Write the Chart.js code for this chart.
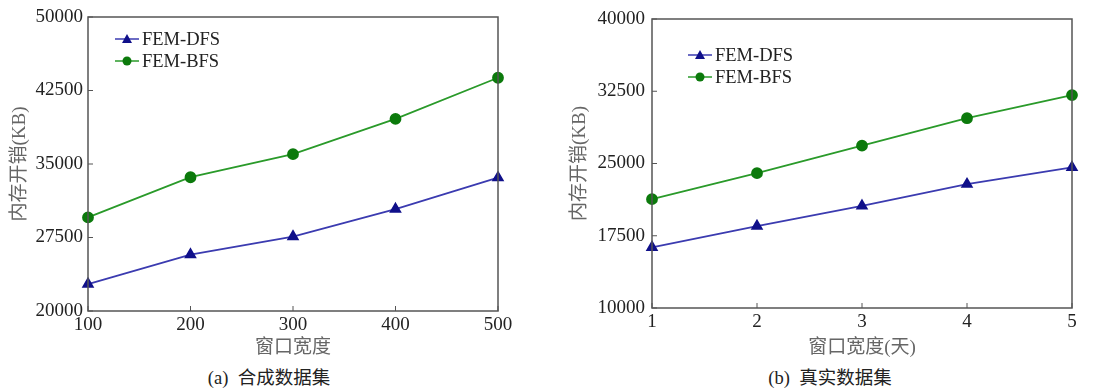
<!DOCTYPE html>
<html>
<head>
<meta charset="utf-8">
<script src="https://cdn.jsdelivr.net/npm/chart.js@4/dist/chart.umd.min.js"></script>
<style>
  html, body { margin: 0; padding: 0; background: #fff; }
  body { width: 1107px; height: 389px; position: relative; overflow: hidden; }
  .box { position: absolute; top: 0; height: 360px; }
  .cap {
    position: absolute; top: 363px; font-size: 18.5px; color: #222;
    font-family: "Liberation Serif", "Noto Sans CJK SC", serif; white-space: pre;
    transform: translateX(-50%);
  }
</style>
</head>
<body>
<div class="box" style="left:0;width:530px"><canvas id="chartA"></canvas></div>
<div class="box" style="left:560px;width:547px"><canvas id="chartB"></canvas></div>
<div class="cap" style="left:269px">(a)  合成数据集</div>
<div class="cap" style="left:830px">(b)  真实数据集</div>
<script>
// ── Data ─────────────────────────────────────────────────────
const seriesNames = ['FEM-DFS', 'FEM-BFS'];

const widthsA = ['100', '200', '300', '400', '500'];
const dfsA = [22750, 25750, 27600, 30400, 33600];
const bfsA = [29550, 33650, 36000, 39600, 43800];
const yTicksA = [20000, 27500, 35000, 42500, 50000];

const widthsB = ['1', '2', '3', '4', '5'];
const dfsB = [16300, 18500, 20600, 22850, 24600];
const bfsB = [21300, 24000, 26850, 29700, 32100];
const yTicksB = [10000, 17500, 25000, 32500, 40000];

// ── Styling ──────────────────────────────────────────────────
const SERIF = '"Liberation Serif", "Noto Sans CJK SC", serif';
const FRAME = '#555';
const BLUE_LINE = '#3b3bb0', BLUE_PT = '#10108a';
const GREEN_LINE = '#2a9a2a', GREEN_PT = '#0c7a0c';

// frame + inward ticks + in-plot legend
const framePlugin = {
  id: 'frame',
  afterDatasetsDraw(chart, args, opts) {
    const { ctx, chartArea: a, scales } = chart;
    ctx.save();
    ctx.strokeStyle = FRAME;
    ctx.lineWidth = 1.5;
    ctx.strokeRect(a.left, a.top, a.right - a.left, a.bottom - a.top);
    ctx.lineWidth = 1;
    ctx.beginPath();
    scales.x.ticks.forEach((t, i) => {
      const x = scales.x.getPixelForTick(i);
      ctx.moveTo(x, a.bottom); ctx.lineTo(x, a.bottom - 5);
    });
    scales.y.ticks.forEach((t, i) => {
      const y = scales.y.getPixelForTick(i);
      ctx.moveTo(a.left, y); ctx.lineTo(a.left + 5, y);
    });
    ctx.stroke();

    // legend
    ctx.font = '18.5px ' + SERIF;
    ctx.textBaseline = 'middle';
    chart.data.datasets.forEach((ds, i) => {
      const x0 = a.left + opts.dx, y0 = a.top + opts.dy + i * 22;
      ctx.strokeStyle = ds.borderColor;
      ctx.lineWidth = 1.5;
      ctx.beginPath(); ctx.moveTo(x0, y0); ctx.lineTo(x0 + 24, y0); ctx.stroke();
      ctx.fillStyle = ds.pointBackgroundColor;
      ctx.beginPath();
      if (ds.pointStyle === 'triangle') {
        ctx.moveTo(x0 + 12, y0 - 5); ctx.lineTo(x0 + 17, y0 + 4); ctx.lineTo(x0 + 7, y0 + 4);
      } else {
        ctx.arc(x0 + 12, y0, 4.5, 0, Math.PI * 2);
      }
      ctx.fill();
      ctx.fillStyle = '#222';
      ctx.fillText(ds.label, x0 + 27, y0 + 1);
    });
    ctx.restore();
  }
};

function makeChart(id, labels, dfs, bfs, yTicks, cfg) {
  return new Chart(document.getElementById(id), {
    type: 'line',
    data: {
      labels,
      datasets: [
        { label: seriesNames[0], data: dfs, borderColor: BLUE_LINE, borderWidth: 1.8,
          pointStyle: 'triangle', pointRadius: 5.5, pointBackgroundColor: BLUE_PT,
          pointBorderColor: BLUE_PT, tension: 0 },
        { label: seriesNames[1], data: bfs, borderColor: GREEN_LINE, borderWidth: 1.8,
          pointStyle: 'circle', pointRadius: 5, pointBackgroundColor: GREEN_PT,
          pointBorderColor: GREEN_PT, tension: 0 },
      ],
    },
    options: {
      responsive: true,
      maintainAspectRatio: false,
      animation: false,
      layout: { padding: { left: 0, top: cfg.top, right: cfg.right, bottom: 0 } },
      plugins: {
        legend: { display: false },
        tooltip: { enabled: false },
        frame: { dx: cfg.legX, dy: cfg.legY },
      },
      scales: {
        x: {
          offset: false,
          grid: { display: false, drawTicks: false },
          border: { display: false },
          ticks: { color: '#222', font: { family: SERIF, size: 19 }, padding: 3, maxRotation: 0 },
          title: { display: true, text: cfg.xTitle, color: '#666',
                   font: { family: SERIF, size: 19 }, padding: { top: 0, bottom: 1 } },
          afterFit: s => { s.height = cfg.xh; },
        },
        y: {
          min: yTicks[0], max: yTicks[yTicks.length - 1],
          afterBuildTicks: s => { s.ticks = yTicks.map(v => ({ value: v })); },
          grid: { display: false, drawTicks: false },
          border: { display: false },
          ticks: { color: '#222', font: { family: SERIF, size: 19 }, padding: cfg.yPad,
                   callback: v => String(v) },
          title: { display: true, text: '内存开销(KB)', color: '#666',
                   font: { family: SERIF, size: 19 }, padding: { top: 9, bottom: 0 } },
          afterFit: s => { s.width = cfg.yw; },
        },
      },
    },
    plugins: [framePlugin],
  });
}

makeChart('chartA', widthsA, dfsA, bfsA, yTicksA,
  { top: 17, right: 32, xh: 49, yw: 88, yPad: 5, legX: 27, legY: 22, xTitle: '窗口宽度' });
makeChart('chartB', widthsB, dfsB, bfsB, yTicksB,
  { top: 19, right: 35, xh: 52, yw: 92, yPad: 7, legX: 36, legY: 36, xTitle: '窗口宽度(天)' });
</script>
</body>
</html>
